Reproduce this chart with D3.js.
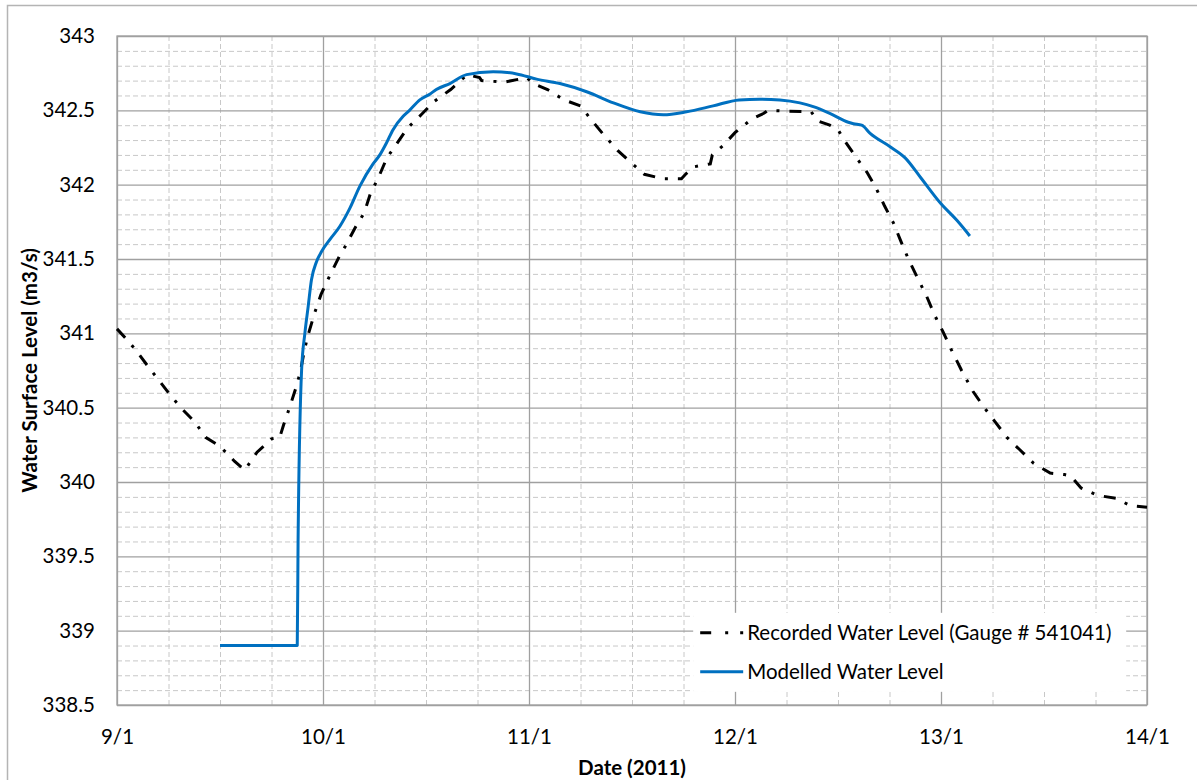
<!DOCTYPE html>
<html>
<head>
<meta charset="utf-8">
<script src="https://cdn.jsdelivr.net/npm/d3@7"></script>
<style>
  body { margin: 0; background: #fff; }
  text { font-family: Lato, "Open Sans", sans-serif; fill: #000; }
</style>
</head>
<body>
<div id="container"></div>
<script>
// recorded gauge level (dash-dot line)
const recDays = [9.0, 9.04, 9.09, 9.16, 9.20, 9.25, 9.31, 9.38, 9.43, 9.50, 9.57, 9.62, 9.68, 9.75, 9.79,
  9.81, 9.84, 9.87, 9.89, 9.91, 9.93, 9.96, 9.99, 10.03, 10.08, 10.11, 10.16, 10.20, 10.23, 10.27, 10.31,
  10.36, 10.41, 10.48, 10.54, 10.62, 10.70, 10.76, 10.77, 10.88, 10.99, 11.02, 11.09, 11.17, 11.25, 11.30,
  11.36, 11.43, 11.49, 11.56, 11.65, 11.74, 11.76, 11.80, 11.88, 11.89, 11.94, 12.00, 12.08, 12.14, 12.16,
  12.25, 12.37, 12.40, 12.46, 12.50, 12.53, 12.58, 12.64, 12.68, 12.725, 12.77, 12.805, 12.84, 12.88, 12.93,
  12.97, 13.01, 13.05, 13.10, 13.155, 13.21, 13.26, 13.32, 13.38, 13.45, 13.53, 13.60, 13.63, 13.68, 13.76,
  13.85, 13.92, 14.0];
const recLevels = [341.03, 340.97, 340.89, 340.76, 340.69, 340.60, 340.50, 340.40, 340.30, 340.24, 340.14, 340.08, 340.20, 340.29, 340.30,
  340.39, 340.51, 340.64, 340.74, 340.89, 341.00, 341.14, 341.26, 341.38, 341.52, 341.59, 341.72, 341.81, 341.94, 342.05, 342.18,
  342.28, 342.38, 342.475, 342.56, 342.64, 342.74, 342.72, 342.70, 342.69, 342.72, 342.68, 342.64, 342.57, 342.53, 342.44,
  342.34, 342.23, 342.155, 342.07, 342.04, 342.04, 342.07, 342.12, 342.14, 342.20, 342.26, 342.35, 342.44, 342.48, 342.50,
  342.495, 342.49, 342.43, 342.40, 342.37, 342.30, 342.20, 342.085, 341.99, 341.86, 341.74, 341.62, 341.505, 341.39, 341.25,
  341.12, 341.01, 340.89, 340.75, 340.61, 340.50, 340.41, 340.30, 340.22, 340.125, 340.06, 340.05, 340.04, 339.96, 339.91,
  339.89, 339.84, 339.83];

// modelled level (blue line)
const modDays = [9.5, 9.875, 9.879, 9.896, 9.912, 9.928, 9.944, 9.968, 9.993, 10.033, 10.082, 10.13, 10.179,
  10.243, 10.276, 10.308, 10.34, 10.389, 10.42, 10.47, 10.52, 10.55, 10.616, 10.697, 10.826, 10.94, 11.037,
  11.15, 11.28, 11.41, 11.54, 11.652, 11.765, 11.894, 12.02, 12.12, 12.218, 12.315, 12.38, 12.46, 12.55,
  12.575, 12.615, 12.656, 12.753, 12.826, 12.9, 12.998, 13.077, 13.14];
const modLevels = [338.9, 338.9, 339.6, 340.75, 341.0, 341.18, 341.36, 341.48, 341.55, 341.63, 341.72, 341.84, 341.99,
  342.14, 342.2, 342.28, 342.37, 342.46, 342.50, 342.57, 342.61, 342.64, 342.68, 342.74, 342.76, 342.745, 342.71,
  342.68, 342.625, 342.55, 342.49, 342.47, 342.49, 342.53, 342.57, 342.575, 342.57, 342.55, 342.525, 342.48, 342.42,
  342.41, 342.40, 342.345, 342.255, 342.18, 342.05, 341.875, 341.76, 341.655];

const xTicks = [9, 10, 11, 12, 13, 14];
const xTickLabels = ["9/1", "10/1", "11/1", "12/1", "13/1", "14/1"];
const yTicks = [338.5, 339, 339.5, 340, 340.5, 341, 341.5, 342, 342.5, 343];
const seriesNames = ["Recorded Water Level (Gauge # 541041)", "Modelled Water Level"];

const margin = {top: 36, right: 50, bottom: 75, left: 117},
      width = 1197 - margin.left - margin.right,
      height = 780 - margin.top - margin.bottom;

const svg = d3.select("#container").append("svg")
  .attr("width", 1197)
  .attr("height", 780);

// outer chart frame
svg.append("rect")
  .attr("x", 7.5).attr("y", 5.5)
  .attr("width", 1200).attr("height", 800)
  .attr("fill", "none")
  .attr("stroke", "#b4b4b4")
  .attr("stroke-width", 1.5);

const chart = svg.append("g")
  .attr("transform", `translate(${margin.left},${margin.top})`);

const x = d3.scaleLinear().domain([9, 14]).range([0, width]);
const y = d3.scaleLinear().domain([338.5, 343]).range([height, 0]);

// minor grid (dashed)
const xMinor = d3.range(9, 14.001, 0.25).filter(v => Math.abs(v - Math.round(v)) > 0.01);
const yMinor = d3.range(338.5, 343.001, 0.1).filter(v => Math.abs(v * 2 - Math.round(v * 2)) > 0.01);

chart.append("g")
  .attr("class", "x grid minor")
  .attr("transform", `translate(0,${height})`)
  .call(d3.axisBottom(x).tickValues(xMinor).tickSize(-height).tickFormat(""))
  .call(g => g.select(".domain").remove());

chart.append("g")
  .attr("class", "y grid minor")
  .call(d3.axisLeft(y).tickValues(yMinor).tickSize(-width).tickFormat(""))
  .call(g => g.select(".domain").remove());

chart.selectAll(".minor line")
  .style("stroke", "#c8c8c8")
  .style("stroke-width", 1)
  .style("stroke-dasharray", "5,3");

// major grid (solid)
chart.append("g")
  .attr("class", "x grid major")
  .attr("transform", `translate(0,${height})`)
  .call(d3.axisBottom(x).tickValues(xTicks).tickSize(-height).tickFormat(""))
  .call(g => g.select(".domain").remove());

chart.append("g")
  .attr("class", "y grid major")
  .call(d3.axisLeft(y).tickValues(yTicks).tickSize(-width).tickFormat(""))
  .call(g => g.select(".domain").remove());

chart.selectAll(".major line")
  .style("stroke", "#a0a0a0")
  .style("stroke-width", 1.3);

// plot area border
chart.append("rect")
  .attr("width", width).attr("height", height)
  .attr("fill", "none")
  .attr("stroke", "#a0a0a0")
  .attr("stroke-width", 1.3);

// tick labels
const xAxis = chart.append("g")
  .attr("transform", `translate(0,${height})`)
  .call(d3.axisBottom(x).tickValues(xTicks).tickSize(0).tickPadding(24)
    .tickFormat((d, i) => xTickLabels[i]))
  .call(g => g.select(".domain").remove());
xAxis.selectAll("text").style("font-size", "20.5px");

const yAxis = chart.append("g")
  .call(d3.axisLeft(y).tickValues(yTicks).tickSize(0).tickPadding(22)
    .tickFormat(d3.format("")))
  .call(g => g.select(".domain").remove());
yAxis.selectAll("text").style("font-size", "20.5px");

// data lines
const recData = recDays.map((d, i) => ({day: d, level: recLevels[i]}));
const modData = modDays.map((d, i) => ({day: d, level: modLevels[i]}));

const line = d3.line()
  .x(d => x(d.day))
  .y(d => y(d.level));

chart.append("path")
  .datum(recData)
  .attr("fill", "none")
  .attr("stroke", "#000")
  .attr("stroke-width", 3)
  .attr("stroke-dasharray", "12,10,3,10")
  .attr("d", line);

chart.append("path")
  .datum(modData)
  .attr("fill", "none")
  .attr("stroke", "#0070c0")
  .attr("stroke-width", 3)
  .attr("stroke-linejoin", "round")
  .attr("d", line.curve(d3.curveMonotoneX));

// legend
const legend = chart.append("g")
  .attr("transform", `translate(${x(11.797)},${y(339.12)})`);

legend.append("rect")
  .attr("width", 433).attr("height", 79)
  .attr("fill", "#fff");

legend.append("line")
  .attr("x1", 7).attr("x2", 50)
  .attr("y1", 20).attr("y2", 20)
  .attr("stroke", "#000").attr("stroke-width", 3)
  .attr("stroke-dasharray", "11,14,3,12,4,100");

legend.append("line")
  .attr("x1", 7).attr("x2", 50)
  .attr("y1", 59).attr("y2", 59)
  .attr("stroke", "#0070c0").attr("stroke-width", 3);

legend.selectAll(".legtext")
  .data(seriesNames)
  .enter()
  .append("text")
  .attr("class", "legtext")
  .attr("x", 54)
  .attr("y", (d, i) => 20 + i * 39)
  .attr("dy", "0.35em")
  .style("font-size", "20.5px")
  .text(d => d);

// axis titles
chart.append("text")
  .attr("x", width / 2)
  .attr("y", height + 70)
  .style("text-anchor", "middle")
  .style("font-size", "20.5px")
  .style("font-weight", "bold")
  .text("Date (2011)");

chart.append("text")
  .attr("transform", "rotate(-90)")
  .attr("x", -height / 2)
  .attr("y", -80)
  .style("text-anchor", "middle")
  .style("font-size", "20.5px")
  .style("font-weight", "bold")
  .text("Water Surface Level (m3/s)");
</script>
</body>
</html>
